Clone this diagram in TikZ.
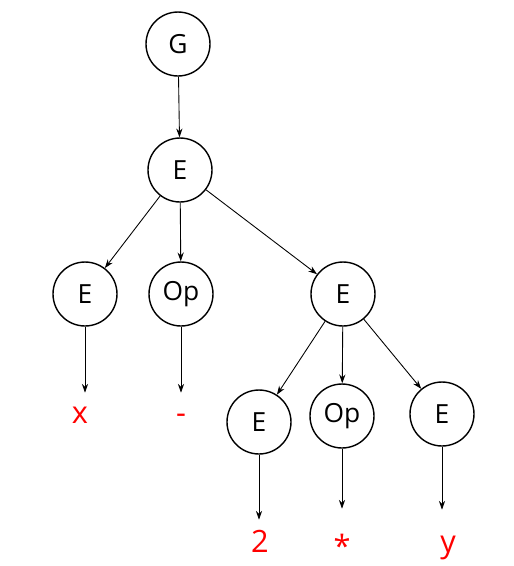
\documentclass[tikz,border=0pt]{standalone}
\usepackage{fontspec}
\setmainfont{Open Sans}
\usetikzlibrary{arrows.meta,calc}

\begin{document}
\begin{tikzpicture}[
  x=0.02cm,y=-0.02cm,
  sym/.style={draw,circle,line width=0.8pt,minimum size=1.28cm,inner sep=0pt,font=\fontsize{15}{18}\selectfont},
  leaf/.style={text=red,anchor=base,inner sep=0pt,text height=12.5pt,font=\fontsize{17.5}{20}\selectfont},
  tree/.style={-{Stealth[length=5pt,width=3.5pt]},line width=0.5pt}
]
\useasboundingbox (0,0) rectangle (514,566);
% nonterminals
\node[sym] (G) at (178,44) {G};
\node[sym] (E1) at (180,170) {E};
\node[sym] (E2) at (85,294) {E};
\node[sym] (Op1) at (181,294) {Op};
\node[sym] (E3) at (343,294) {E};
\node[sym] (E4) at (259,422) {E};
\node[sym] (Op2) at (342,416) {Op};
\node[sym] (E5) at (442,414) {E};
% terminals
\node[leaf] (x) at (80,423) {x};
\node[leaf] (minus) at (181,423) {-};
\node[leaf] (two) at (260,552) {2};
\node[leaf] (star) at (342,557) {*};
\node[leaf] (y) at (448,552) {y};
% derivation
\draw[tree] (G) -- (E1);
\foreach \c in {E2,Op1,E3} \draw[tree] (E1) -- (\c);
\foreach \c in {E4,Op2,E5} \draw[tree] (E3) -- (\c);
% down to the tokens
\foreach \n/\t/\s in {E2/x/8,Op1/minus/8,E4/two/10,Op2/star/26,E5/y/20}
  \draw[tree,shorten >=\s*0.02cm] (\n.south) -- (\n.south |- \t.north);
\end{tikzpicture}
\end{document}
